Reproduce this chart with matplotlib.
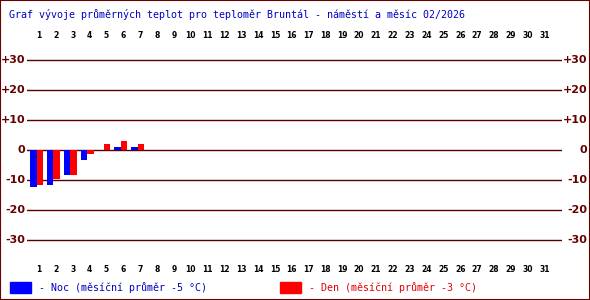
import matplotlib
matplotlib.use("Agg")
import matplotlib.pyplot as plt
from matplotlib.patches import Rectangle
from matplotlib.transforms import blended_transform_factory

# data (February 2026, days 1-7)
days = [1, 2, 3, 4, 5, 6, 7]
noc = [-12.3, -11.5, -8.4, -3.2, 0.0, 1.0, 1.0]
den = [-11.5, -9.5, -8.4, -1.3, 2.0, 3.0, 2.0]
day_labels = [str(d) for d in range(1, 32)]
y_ticks = [30, 20, 10, 0, -10, -20, -30]
y_labels = ["+30", "+20", "+10", "0", "-10", "-20", "-30"]

title = "Graf vývoje průměrných teplot pro teploměr Bruntál - náměstí a měsíc 02/2026"
leg_noc = "- Noc (měsíční průměr -5 °C)"
leg_den = "- Den (měsíční průměr -3 °C)"

W, H = 590, 300
fig = plt.figure(figsize=(W / 100, H / 100), dpi=100)
fig.patch.set_facecolor("white")

grid_col = "#5a0000"
lab_col = "#660000"
mono = "DejaVu Sans Mono"

ax = fig.add_axes([27 / W, 45 / H, 535 / W, 210 / H])
ax.set_xlim(0.29, 32.04)
ax.set_ylim(-35, 35)
ax.axis("off")

for v in y_ticks:
    ax.axhline(v, color=grid_col, lw=1, zorder=1)

ax.bar([d - 0.52 for d in days], noc, width=0.38, align="edge", color="#0000ff", zorder=2)
ax.bar([d - 0.14 for d in days], den, width=0.38, align="edge", color="#ff0000", zorder=2)

# day labels top and bottom
tr = blended_transform_factory(ax.transData, fig.transFigure)
for i, s in enumerate(day_labels):
    for yy in (1 - 35 / H, 1 - 269 / H):
        ax.text(i + 1, yy, s, transform=tr, ha="center", va="center",
                fontsize=5.5, fontweight="bold", color="black")

# y labels left and right
tr2 = blended_transform_factory(fig.transFigure, ax.transData)
for v, s in zip(y_ticks, y_labels):
    ax.text(25 / W, v, s, transform=tr2, ha="right", va="center",
            fontsize=8, fontweight="bold", color=lab_col)
    ax.text(587 / W, v, s, transform=tr2, ha="right", va="center",
            fontsize=8, fontweight="bold", color=lab_col)

fig.text(9 / W, 1 - 14 / H, title, family=mono, fontsize=7.2, color="#0000c0",
         ha="left", va="center")

# legend
fig.patches.append(Rectangle((10 / W, 1 - 293 / H), 21 / W, 11 / H,
                             transform=fig.transFigure, color="#0000ff"))
fig.text(39 / W, 1 - 288 / H, leg_noc, family=mono, fontsize=7.2, color="#0000c0",
         ha="left", va="center")
fig.patches.append(Rectangle((280 / W, 1 - 293 / H), 21 / W, 11 / H,
                             transform=fig.transFigure, color="#ff0000"))
fig.text(309 / W, 1 - 288 / H, leg_den, family=mono, fontsize=7.2, color="#e00000",
         ha="left", va="center")

fig.patches.append(Rectangle((0, 0), 1, 1, transform=fig.transFigure, fill=False,
                             edgecolor="#6a0000", lw=1.5))

fig.savefig("out.png", dpi=100, facecolor="white")
